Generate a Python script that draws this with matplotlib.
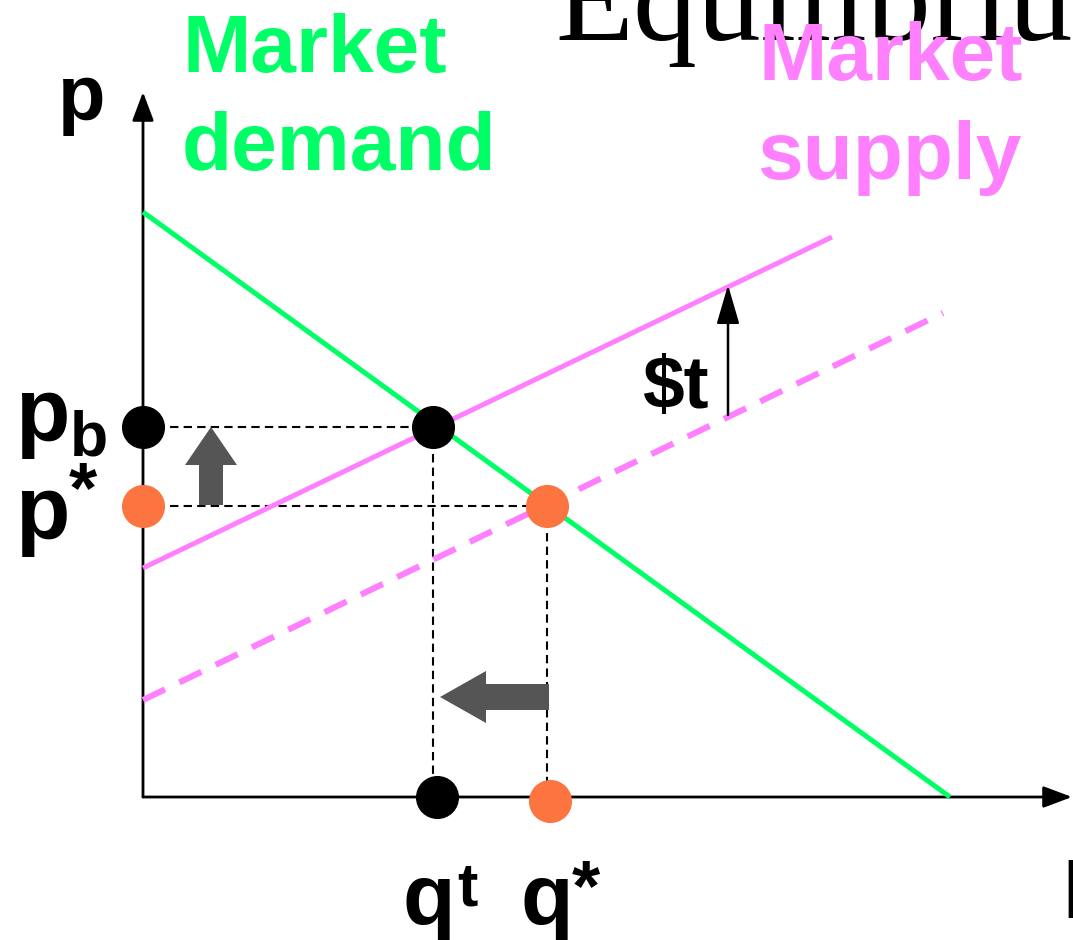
import matplotlib
matplotlib.use("Agg")
import matplotlib.pyplot as plt
from matplotlib.patches import FancyArrow

# quantities / prices in picture units, origin at the axes corner
demand_q = [0, 807]
demand_p = [585, 0]
supply_tax_q = [0, 689]
supply_tax_p = [229, 560]
supply_q = [0, 800]
supply_p = [97, 484]

q_tax, p_buyer = 290, 370
q_star, p_star = 404, 291
tax_q, tax_low, tax_high = 585, 382, 512

GREEN = "#00FF66"
PINK = "#FF80FF"
ORANGE = "#FC7440"
GRAY = "#555555"
SANS = "Liberation Sans"

fig = plt.figure(figsize=(10.73, 9.4), dpi=100)
ax = fig.add_axes([0, 0, 1, 1])
ax.set_xlim(-143, 930)
ax.set_ylim(-143, 797)
ax.axis("off")


def px(x, y):
    # picture pixel -> data coords (only for placing labels)
    return x - 143, 797 - y


# axes with arrow heads
ax.annotate("", xy=(929, 0), xytext=(0, 0),
            arrowprops=dict(arrowstyle="-|>,head_length=0.8,head_width=0.3",
                            color="black", lw=2, mutation_scale=22,
                            shrinkA=0, shrinkB=0))
ax.annotate("", xy=(0, 705), xytext=(0, 0),
            arrowprops=dict(arrowstyle="-|>,head_length=0.8,head_width=0.3",
                            color="black", lw=2, mutation_scale=22,
                            shrinkA=0, shrinkB=0))

# curves
ax.plot(demand_q, demand_p, color=GREEN, lw=3.6, solid_capstyle="butt", zorder=3)
ax.plot(supply_tax_q, supply_tax_p, color=PINK, lw=3.6, solid_capstyle="butt", zorder=3)
ax.plot(supply_q, supply_p, color=PINK, lw=4.4, dashes=(4, 2.6), zorder=3)

# dashed guides
kw = dict(color="black", lw=1.5, dashes=(4, 2.5), zorder=2)
ax.plot([0, q_tax], [p_buyer, p_buyer], **kw)
ax.plot([0, q_star], [p_star, p_star], **kw)
ax.plot([q_tax, q_tax], [p_buyer, 0], **kw)
ax.plot([q_star, q_star], [p_star, 0], **kw)

# points
ax.plot([q_tax, 0, q_tax + 4], [p_buyer, p_buyer, 0], "o", color="black", ms=30, zorder=5)
ax.plot([q_star, 0, q_star + 3], [p_star, p_star, -4], "o", color=ORANGE, ms=30, zorder=5)

# tax arrow
ax.annotate("", xy=(tax_q, tax_high), xytext=(tax_q, tax_low),
            arrowprops=dict(arrowstyle="-|>,head_length=2.4,head_width=0.7",
                            color="black", lw=1.8, shrinkA=0, shrinkB=0), zorder=4)

# grey shift arrows
ax.add_patch(FancyArrow(68, p_star + 1, 0, p_buyer - p_star - 1, width=24,
                        head_width=52, head_length=38, length_includes_head=True,
                        color=GRAY, lw=0, zorder=4))
ax.add_patch(FancyArrow(q_star + 2, 100, q_tax - q_star + 5, 0, width=26,
                        head_width=52, head_length=46, length_includes_head=True,
                        color=GRAY, lw=0, zorder=4))

# labels
bold = dict(family=SANS, weight="bold", color="black")
ax.text(*px(555, 40), "Equilibrium", family="Liberation Serif", fontsize=92,
        color="black", va="baseline", ha="left")
ax.text(*px(182, 72), "Market", fontsize=59, color=GREEN, family=SANS,
        weight="bold", va="baseline")
ax.text(*px(182, 170), "demand", fontsize=59, color=GREEN, family=SANS,
        weight="bold", va="baseline")
ax.text(*px(759, 80), "Market", fontsize=59, color=PINK, family=SANS,
        weight="bold", va="baseline")
ax.text(*px(757, 179), "supply", fontsize=59, color=PINK, family=SANS,
        weight="bold", va="baseline")

ax.text(*px(58, 120), "p", fontsize=56, va="baseline", **bold)
ax.text(*px(15, 440), "p", fontsize=64, va="baseline", **bold)
ax.text(*px(70, 455), "b", fontsize=45, va="baseline", **bold)
ax.text(*px(15, 538), "p", fontsize=64, va="baseline", **bold)
ax.text(*px(69, 512), "*", fontsize=52, va="baseline", **bold)

ax.text(*px(403, 924), "q", fontsize=62, va="baseline", **bold)
ax.text(*px(457, 905), "t", fontsize=44, va="baseline", **bold)
ax.text(*px(520, 924), "q", fontsize=62, va="baseline", **bold)
ax.text(*px(572, 910), "*", fontsize=52, va="baseline", **bold)

ax.text(*px(642, 408), "$t", fontsize=54, va="baseline", **bold)
ax.text(*px(1062, 918), "I", fontsize=60, va="baseline", **bold)

fig.savefig("out.png", dpi=100)
